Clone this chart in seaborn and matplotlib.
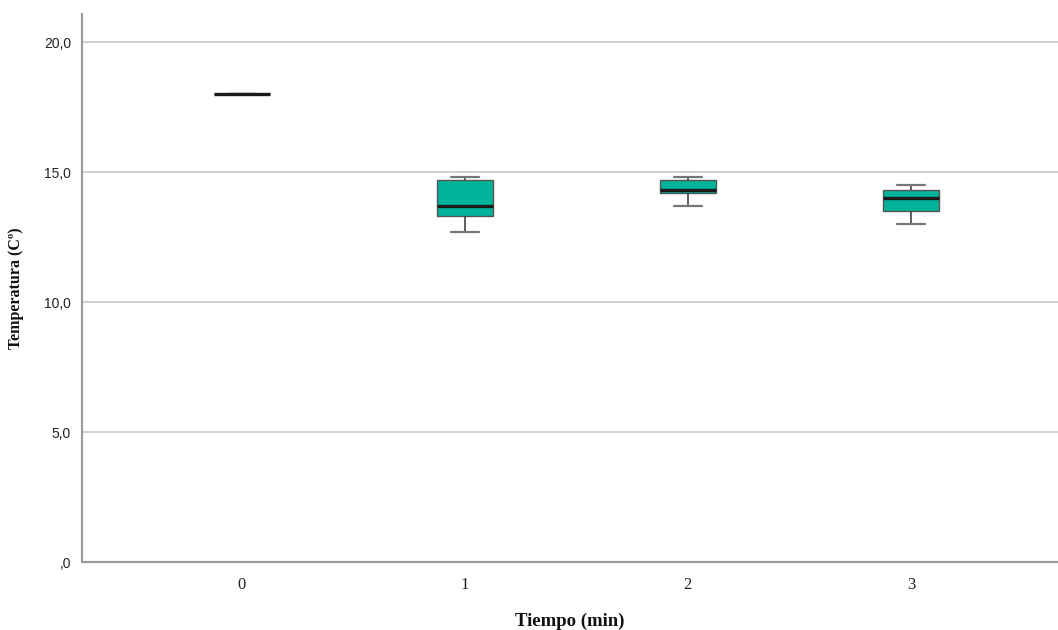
import matplotlib
matplotlib.use("Agg")
import matplotlib.pyplot as plt
import seaborn as sns
import pandas as pd

# Temperature readings per time point (five readings each)
tiempo_0 = [18.0, 18.0, 18.0, 18.0, 18.0]
tiempo_1 = [12.7, 13.3, 13.7, 14.7, 14.8]
tiempo_2 = [13.7, 14.2, 14.3, 14.7, 14.8]
tiempo_3 = [13.0, 13.5, 14.0, 14.3, 14.5]
categorias = ["0", "1", "2", "3"]
y_ticks = [0, 5, 10, 15, 20]
y_tick_labels = [",0", "5,0", "10,0", "15,0", "20,0"]

df = pd.DataFrame({
    "Tiempo": sum([[c] * 5 for c in categorias], []),
    "Temperatura": tiempo_0 + tiempo_1 + tiempo_2 + tiempo_3,
})

sns.set_theme(style="white")
fig = plt.figure(figsize=(10.58, 6.3), dpi=100)
ax = fig.add_axes([82 / 1058, 1 - 562 / 630, 1 - 82 / 1058, (562 - 14) / 630])

for yv in y_ticks[1:]:
    ax.axhline(yv, color="#c8c8c8", lw=1.2, zorder=0)

sns.boxplot(
    data=df, x="Tiempo", y="Temperatura", order=categorias, ax=ax,
    width=0.25, color="#00B39A", saturation=1, whis=1.5, fliersize=0,
    boxprops=dict(edgecolor="#555555", linewidth=1.0),
    whiskerprops=dict(color="#444444", linewidth=1.2),
    capprops=dict(color="#777777", linewidth=1.6),
    medianprops=dict(color="#1a1a1a", linewidth=2.4),
    zorder=2,
)

ax.set_xlim(-0.717, 3.66)
ax.set_ylim(0, 21.08)
ax.set_yticks(y_ticks)
ax.set_yticklabels(y_tick_labels, fontfamily="Liberation Sans", fontsize=10, color="#222222")
ax.set_xticks(range(len(categorias)))
ax.set_xticklabels(categorias, fontfamily="Liberation Serif", fontsize=12, color="#222222")
ax.tick_params(axis="y", length=0, pad=8)
ax.tick_params(axis="x", length=0, pad=11)

for side in ["top", "right"]:
    ax.spines[side].set_visible(False)
for side in ["left", "bottom"]:
    ax.spines[side].set_color("#999999")
    ax.spines[side].set_linewidth(1.5)

ax.set_xlabel("Tiempo (min)", fontfamily="Liberation Serif", fontweight="bold",
              fontsize=13.5, color="#111111", labelpad=14)
ax.set_ylabel("Temperatura (Cº)", fontfamily="Liberation Serif", fontweight="bold",
              fontsize=11.5, color="#111111", labelpad=14)

fig.savefig("out.png", dpi=100)
